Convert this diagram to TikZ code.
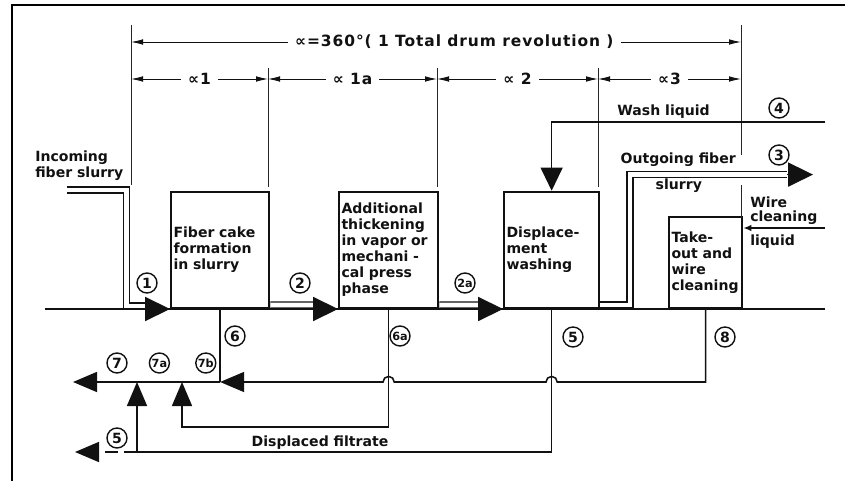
\documentclass[tikz,border=0pt]{standalone}
\usepackage{fontspec}
\setmainfont{DejaVu Sans}
\usepackage{tikz}
\usetikzlibrary{
  arrows.meta,
  calc,
  positioning
}
\definecolor{WashInk}{HTML}{111111}
\colorlet{WashGuide}{black!85}
\tikzset{
  every node/.style = {font=\bfseries\fontsize{10pt}{11.4pt}\selectfont, text=WashInk},
  stage/.style = {
    draw=WashInk,
    fill=white,
    line width=1.6pt,
    align=left,
    anchor=south west,
    inner xsep=0.06cm,
    inner ysep=0pt
  },
  tag/.style = {
    circle,
    draw=WashInk,
    line width=1pt,
    minimum size=0.5cm,
    inner sep=0pt
  },
  tag small/.style = {tag, font=\bfseries\fontsize{8pt}{8pt}\selectfont},
  wire/.style = {draw=WashInk, line width=1.1pt},
  pipe/.style = {draw=WashInk, line width=1pt, double=white, double distance=3.3pt},
  flow tip/.style = {-{Triangle[length=6.2mm,width=6mm]}, draw=WashInk, line width=0.9pt},
  drain/.style = {draw=WashInk, line width=1.1pt},
  drain tip/.style = {drain, -{Triangle[length=6mm,width=5mm]}},
  guide/.style = {draw=WashGuide, line width=0.6pt},
  span/.style = {
    {Latex[length=3mm,width=1.4mm]}-{Latex[length=3mm,width=1.4mm]},
    draw=WashInk,
    line width=0.6pt
  },
  span label/.style = {
    fill=white,
    inner xsep=0.18cm,
    inner ysep=1pt,
    font=\bfseries\fontsize{11pt}{13pt}\selectfont\addfontfeatures{LetterSpace=6}
  },
  note/.style = {align=left, inner sep=0pt}
}

\begin{document}
\begin{tikzpicture}[x=1cm,y=1cm]
  \useasboundingbox (0,0) rectangle (21.125,12.025);
  \draw[line width=1.5pt] (21.125,11.90) -- (0.30,11.90) -- (0.30,0);

  \node[stage, minimum width=2.45cm, minimum height=2.9cm, text width=2.33cm] (b1) at (4.25,4.30)
    {Fiber cake\\formation\\in slurry};
  \node[stage, minimum width=2.475cm, minimum height=2.9cm, text width=2.355cm] (b2) at (8.45,4.30)
    {Additional\\thickening\\in vapor or\\mechani -\\cal press\\phase};
  \node[stage, minimum width=2.375cm, minimum height=2.9cm, text width=2.255cm] (b3) at (12.575,4.30)
    {Displace-\\ment\\washing};
  \node[stage, minimum width=1.825cm, minimum height=2.275cm, text width=1.705cm] (b4) at (16.70,4.30)
    {Take-\\out and\\wire\\cleaning};

  \draw[guide] (3.275,11.40) -- (3.275,7.40);
  \foreach \x in {6.70,10.925,14.95} {
    \draw[guide] (\x,10.325) -- (\x,7.35);
  }
  \draw[guide] (18.525,11.40) -- (18.525,8.15);
  \draw[guide] (18.525,7.40) -- (18.525,6.575);

  \draw[span] (3.275,10.975) -- node[span label, pos=0.53] {∝=360°( 1 Total drum revolution )} (18.525,10.975);
  \foreach \xa/\xb/\lbl in {3.275/6.70/∝1, 6.70/10.925/∝ 1a, 10.925/14.95/∝ 2, 14.95/18.525/∝3} {
    \draw[span] (\xa,10.05) -- node[span label] {\lbl} (\xb,10.05);
  }

  \draw[wire] (1.125,4.30) -- (20.625,4.30);

  \coordinate (feed in) at (1.675,7.275);
  \coordinate (wash in) at (20.625,8.975);
  \coordinate (wire in) at (20.625,6.325);
  \coordinate (out3) at (20.325,7.66);
  \draw[pipe] (feed in) -| (3.16,4.378) -- (3.625,4.378);
  \draw[flow tip] (3.625,4.30) -- (b1.south west);
  \draw[pipe] ($(b1.south east)+(0,0.10)$) -- (7.825,4.40);
  \draw[flow tip] (7.825,4.30) -- (b2.south west);
  \draw[pipe] ($(b2.south east)+(0,0.10)$) -- (11.95,4.40);
  \draw[flow tip] (11.95,4.30) -- (b3.south west);
  \draw[pipe] ($(b3.south east)+(0,0.10)$) -| (15.75,7.66) -- (19.675,7.66);
  \draw[flow tip] (19.675,7.66) -- (out3);
  \draw[drain, -{Triangle[length=5.8mm,width=5.5mm]}] (wash in) -| (b3.north);
  \draw[drain, -{Latex[length=2mm,width=1.6mm]}] (wire in) -- (wire in -| b4.east);

  \coordinate (lvl7) at (0,2.475);
  \coordinate (lvl6a) at (0,1.35);
  \coordinate (lvl5) at (0,0.725);
  \coordinate (j7a) at (3.425,2.475);
  \coordinate (j7b) at (4.55,2.475);
  \coordinate (out7) at (1.825,2.475);
  \coordinate (out5) at (1.875,0.725);
  \draw[drain tip] (b4.south) |- ($(b3.south |- lvl7)+(0.14,0)$)
    arc[start angle=0, end angle=180, radius=0.14]
    -- ($(b2.south |- lvl7)+(0.14,0)$)
    arc[start angle=0, end angle=180, radius=0.14]
    -- (b1.south |- lvl7);
  \draw[drain] (b1.south) -- (b1.south |- lvl7);
  \draw[drain tip] (b1.south |- lvl7) -- (out7);
  \draw[drain tip] (b2.south) |- (j7b |- lvl6a) -- (j7b);
  \draw[drain tip] (b3.south) |- (j7a |- lvl5) -- (j7a);
  \draw[drain tip, dash pattern=on 0.32cm off 0.16cm] (j7a |- lvl5) -- (out5);

  \node[tag] (t1) at (3.675,4.95) {1};
  \node[tag] (t2) at (7.50,4.95) {2};
  \node[tag small] (t2a) at (11.625,4.95) {2a};
  \node[tag] (t4) at (19.475,9.325) {4};
  \node[tag] (t3) at (19.475,8.15) {3};
  \node[tag] (t6) at (5.875,3.625) {6};
  \node[tag small] (t6a) at (10.00,3.625) {6a};
  \node[tag] (t5) at (14.325,3.60) {5};
  \node[tag] (t8) at (18.125,3.60) {8};
  \node[tag] (t7) at (2.925,2.95) {7};
  \node[tag small, right=0.525cm of t7] (t7a) {7a};
  \node[tag small, right=0.625cm of t7a] (t7b) {7b};
  \node[tag] (t5b) at (2.925,1.075) {5};

  \node[note, anchor=north west] (feed lbl) at (0.875,8.25) {Incoming\\fiber slurry};
  \node[note] (wash lbl) at (16.59,9.225) {Wash liquid};
  \node[note, anchor=east] (out lbl) at (18.40,8.025) {Outgoing fiber};
  \node[note] (slurry lbl) at (16.97,7.375) {slurry};
  \node[note, anchor=north west] (wire lbl) at (18.75,7.10) {Wire\\[-2pt]cleaning\\[6pt]liquid};
  \node[note] (filt lbl) at (8.00,0.95) {Displaced filtrate};
\end{tikzpicture}
\end{document}
